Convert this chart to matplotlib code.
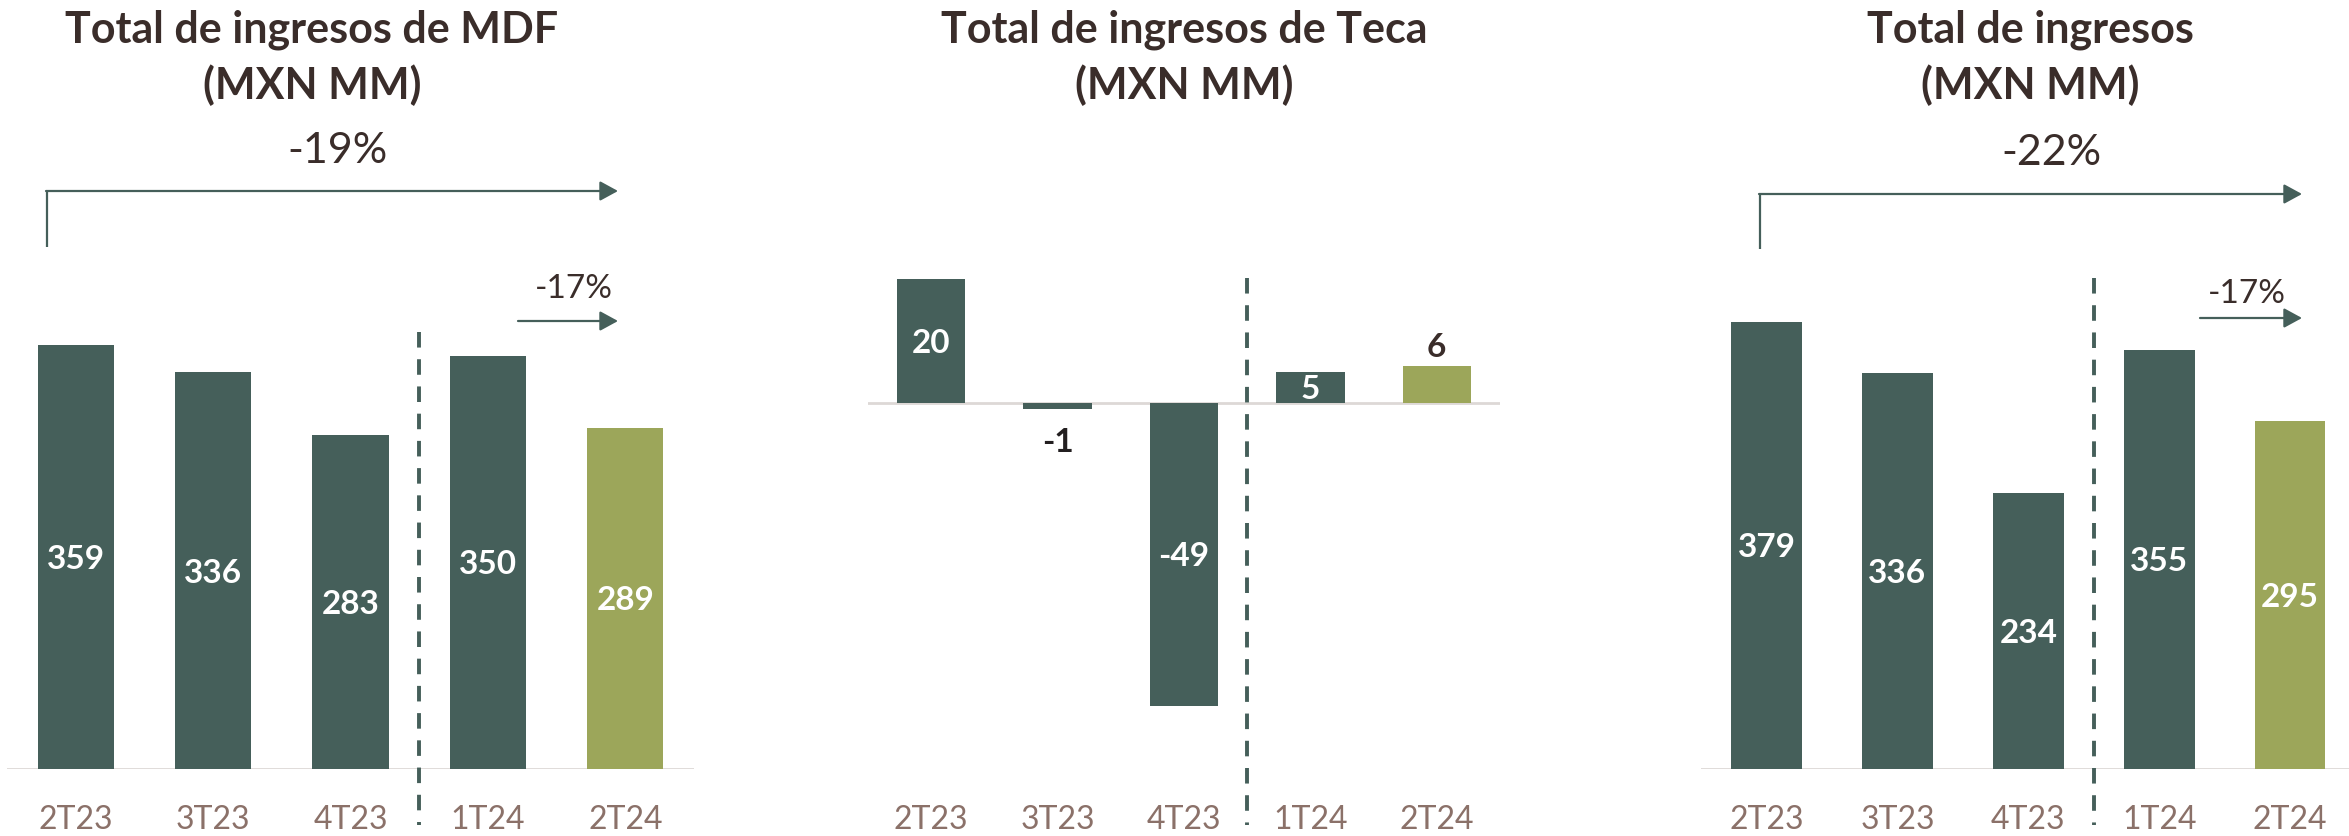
import matplotlib
matplotlib.use("Agg")
import matplotlib.pyplot as plt
from matplotlib.transforms import blended_transform_factory

plt.rcParams['font.family'] = ['Lato', 'DejaVu Sans']

# data
quarters = ["2T23", "3T23", "4T23", "1T24", "2T24"]
mdf_values = [359, 336, 283, 350, 289]
teca_values = [20, -1, -49, 5, 6]
total_values = [379, 336, 234, 355, 295]
titles = ["Total de ingresos de MDF\n(MXN MM)",
          "Total de ingresos de Teca\n(MXN MM)",
          "Total de ingresos\n(MXN MM)"]
pct_long = ["-19%", None, "-22%"]
pct_short = ["-17%", None, "-17%"]

DARK = "#455F5A"
OLIVE = "#9CA65A"
TITLE_C = "#3A2D2A"
TICK_C = "#8B7169"
AXIS_C = "#DDD8D6"

W, H = 2349, 836
fig = plt.figure(figsize=(W / 100, H / 100), dpi=100)


def make_axes(x_left, x_right, base, scale, ymin, ymax):
    # pixel box (from top-left) -> figure fraction
    top = base - ymax * scale
    bottom = base - ymin * scale
    ax = fig.add_axes([x_left / W, 1 - bottom / H, (x_right - x_left) / W, (bottom - top) / H])
    ax.set_ylim(ymin, ymax)
    ax.patch.set_alpha(0)
    for s in ax.spines.values():
        s.set_visible(False)
    ax.set_xticks([])
    ax.set_yticks([])
    return ax


# panel layout: left px, right px, baseline px, px per unit, ylim, xlim, bar width
panels = [
    dict(vals=mdf_values, xl=7, xr=694, base=769, scale=1.181, ylim=(0, 400), xlim=(-0.5, 4.5), bw=0.555, tx=312),
    dict(vals=teca_values, xl=868, xr=1500, base=403, scale=6.18, ylim=(-55, 25), xlim=(-0.5, 4.5), bw=0.54, tx=1184),
    dict(vals=total_values, xl=1701, xr=2349, base=769, scale=1.18, ylim=(0, 400), xlim=(-0.5, 4.45), bw=0.54, tx=2030),
]

axes = []
for i, p in enumerate(panels):
    ax = make_axes(p["xl"], p["xr"], p["base"], p["scale"], *p["ylim"])
    ax.set_xlim(*p["xlim"])
    axes.append(ax)
    x = list(range(len(quarters)))
    colors = [DARK] * 4 + [OLIVE]
    ax.bar(x, p["vals"], width=p["bw"], color=colors, zorder=2)
    ax.axhline(0, color=AXIS_C, lw=2, zorder=1)

    trans = blended_transform_factory(ax.transData, fig.transFigure)
    # separator between 2023 and 2024
    ax.plot([2.5, 2.5], [1 - (278 if i else 332) / H, 1 - 825 / H], transform=trans,
            color=DARK, lw=2.8, linestyle=(0, (4, 3)), clip_on=False, zorder=3)
    # category labels
    for xi, q in zip(x, quarters):
        ax.text(xi, 1 - 829 / H, q, transform=trans, ha='center', va='baseline',
                fontsize=23, color=TICK_C)

    # value labels
    for xi, v in zip(x, p["vals"]):
        if i == 1 and v == -1:
            ax.annotate(str(v), (xi, v), xytext=(0, -31), textcoords='offset points',
                        ha='center', va='baseline', fontsize=24, fontweight='bold', color="#231F20")
        elif i == 1 and v == 6:
            ax.annotate(str(v), (xi, v), xytext=(0, 6.5), textcoords='offset points',
                        ha='center', va='baseline', fontsize=24, fontweight='bold', color=TITLE_C)
        else:
            ax.annotate(str(v), (xi, v / 2), xytext=(0, -8.6), textcoords='offset points',
                        ha='center', va='baseline', fontsize=24, fontweight='bold', color='white')

# overlay for titles and growth arrows, in pixel coordinates
ov = fig.add_axes([0, 0, 1, 1])
ov.set_xlim(0, W)
ov.set_ylim(H, 0)
ov.axis('off')
ov.patch.set_alpha(0)

for p, t in zip(panels, titles):
    l1, l2 = t.split("\n")
    ov.text(p["tx"], 42, l1, ha='center', va='baseline', fontsize=31, fontweight='bold', color=TITLE_C)
    ov.text(p["tx"], 99, l2, ha='center', va='baseline', fontsize=31, fontweight='bold', color=TITLE_C)

arrow_style = dict(arrowstyle='-|>,head_length=0.55,head_width=0.3', color=DARK, lw=1.6,
                   mutation_scale=20, shrinkA=0, shrinkB=0)

# long arrows (2T23 -> 2T24)
long_arrows = [dict(x0=47, x1=618, y0=247, y1=191, tx=338, ty=163),
               None,
               dict(x0=1760, x1=2302, y0=249, y1=194, tx=2051, ty=165)]
short_arrows = [dict(x0=518, x1=618, y=321, tx=574, ty=298),
                None,
                dict(x0=2200, x1=2302, y=318, tx=2247, ty=303)]

for la, sa, pl, ps in zip(long_arrows, short_arrows, pct_long, pct_short):
    if la is None:
        continue
    ov.plot([la["x0"], la["x0"]], [la["y0"], la["y1"]], color=DARK, lw=1.6, solid_capstyle='butt')
    ov.annotate('', xy=(la["x1"], la["y1"]), xytext=(la["x0"] - 1, la["y1"]), arrowprops=arrow_style)
    ov.text(la["tx"], la["ty"], pl, ha='center', va='baseline', fontsize=31, color=TITLE_C)
    ov.annotate('', xy=(sa["x1"], sa["y"]), xytext=(sa["x0"], sa["y"]), arrowprops=arrow_style)
    ov.text(sa["tx"], sa["ty"], ps, ha='center', va='baseline', fontsize=24, color=TITLE_C)

fig.savefig("out.png", dpi=100, facecolor='white')
